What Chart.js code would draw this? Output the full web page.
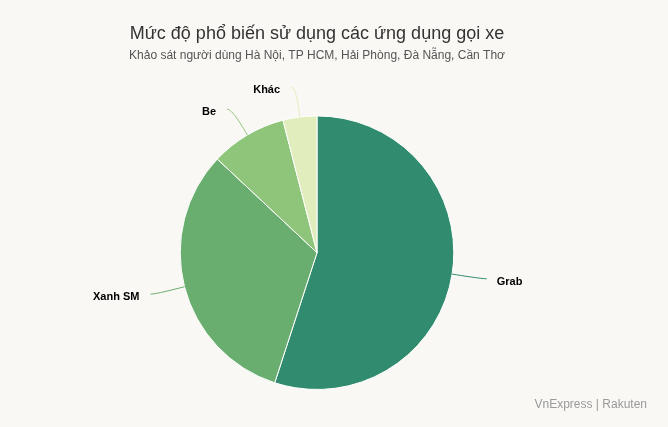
<!DOCTYPE html>
<html>
<head>
<meta charset="utf-8">
<script src="https://cdn.jsdelivr.net/npm/chart.js@4/dist/chart.umd.min.js"></script>
<style>
  html, body { margin: 0; padding: 0; background: #f9f8f4; }
  #wrap { width: 668px; height: 427px; }
</style>
</head>
<body>
<div id="wrap"><canvas id="mycanvas"></canvas></div>
<script>
// data
var apps = ['Grab', 'Xanh SM', 'Be', 'Khác'];
var shares = [55, 32, 9, 4];
var sliceColors = ['#318c6f', '#69ae6e', '#8fc57a', '#e1edbc'];

var titleText = 'Mức độ phổ biến sử dụng các ứng dụng gọi xe';
var subtitleText = 'Khảo sát người dùng Hà Nội, TP HCM, Hải Phòng, Đà Nẵng, Cần Thơ';
var creditText = 'VnExpress | Rakuten';

// labels with curved connectors, placed outside each slice
var outsideLabels = {
    id: 'outsideLabels',
    afterDatasetsDraw: function(chart) {
        var ctx = chart.ctx;
        var arcs = chart.getDatasetMeta(0).data;
        var dist = 30;
        ctx.save();
        arcs.forEach(function(arc, i) {
            var mid = (arc.startAngle + arc.endAngle) / 2;
            var cx = arc.x, cy = arc.y, r = arc.outerRadius;
            var cos = Math.cos(mid), sin = Math.sin(mid);
            var right = cos >= 0;
            var touch = { x: cx + r * cos, y: cy + r * sin };
            var ctrl = { x: cx + (r + 12) * cos, y: cy + (r + 12) * sin };
            var lx = cx + (r + dist) * cos;
            var ly = cy + (r + dist) * sin;
            var endX = lx + (right ? 5 : -5);

            ctx.beginPath();
            ctx.strokeStyle = sliceColors[i];
            ctx.lineWidth = 1;
            ctx.moveTo(endX, ly);
            ctx.bezierCurveTo(lx, ly, ctrl.x, ctrl.y, touch.x, touch.y);
            ctx.stroke();

            ctx.fillStyle = '#000';
            ctx.font = 'bold 11px "Liberation Sans", Arial, sans-serif';
            ctx.textBaseline = 'middle';
            ctx.textAlign = right ? 'left' : 'right';
            ctx.fillText(apps[i], lx + (right ? 15 : -16), ly + 3);
        });

        ctx.font = '12px "Liberation Sans", Arial, sans-serif';
        ctx.fillStyle = '#999';
        ctx.textAlign = 'right';
        ctx.textBaseline = 'middle';
        ctx.fillText(creditText, 647, 405);
        ctx.restore();
    }
};

var ctx1 = document.getElementById('mycanvas');

var data1 = {
    labels: apps,
    datasets: [
        {
            data: shares,
            backgroundColor: sliceColors,
            borderColor: '#ffffff',
            borderWidth: 1
        }
    ]
};

var options = {
    responsive: true,
    maintainAspectRatio: false,
    animation: false,
    layout: {
        padding: { top: 0, bottom: 37, left: 0, right: 34 }
    },
    plugins: {
        title: {
            display: true,
            text: titleText,
            color: '#333',
            font: { family: '"Liberation Sans", Arial, sans-serif', size: 18, weight: 'normal' },
            padding: { top: 23, bottom: 4 }
        },
        subtitle: {
            display: true,
            text: subtitleText,
            color: '#555',
            font: { family: '"Liberation Sans", Arial, sans-serif', size: 12 },
            padding: { top: 0, bottom: 52.4 }
        },
        legend: { display: false },
        tooltip: { enabled: false }
    }
};

var chart1 = new Chart(ctx1, {
    type: 'pie',
    data: data1,
    options: options,
    plugins: [outsideLabels]
});
</script>
</body>
</html>
